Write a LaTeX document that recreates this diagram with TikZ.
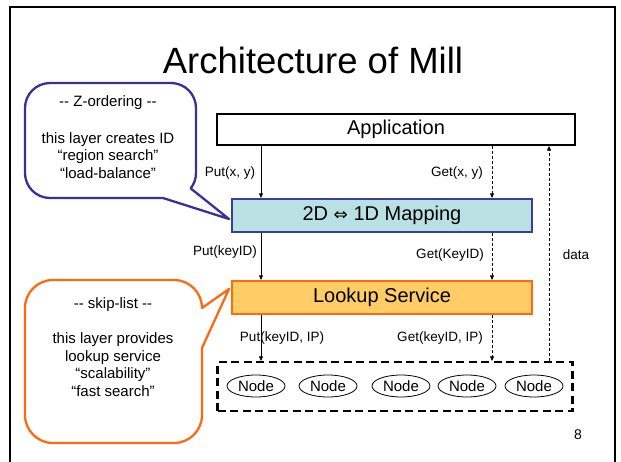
\documentclass[tikz,border=0pt]{standalone}
\usepackage{fontspec}
\setmainfont{Liberation Sans}
\newfontfamily\symfont{DejaVu Sans}
\usetikzlibrary{arrows.meta,shapes.geometric}
\definecolor{mapfill}{HTML}{B9E1E4}
\definecolor{mapline}{HTML}{3C3C9C}
\definecolor{lkfill}{HTML}{FFCC66}
\definecolor{lkline}{HTML}{FF6A10}
\definecolor{calloutblue}{HTML}{33339A}
\newcommand{\dd}{-\kern0pt-}
\begin{document}
\begin{tikzpicture}[x=1pt,y=-1pt,
  layer/.style={draw,line width=2.2pt,minimum width=300pt,minimum height=33pt,
    inner sep=0pt,font=\fontsize{20}{24}\selectfont},
  peer/.style={draw,ellipse,line width=0.8pt,minimum width=58pt,minimum height=22pt,
    inner sep=0pt,font=\fontsize{15}{18}\selectfont},
  lbl/.style={font=\fontsize{13.5}{16}\selectfont,inner sep=0pt},
  note/.style={align=center,font=\fontsize{15}{17.5}\selectfont,inner sep=0pt},
  call/.style={line width=0.7pt,-{Triangle[length=4.5pt,width=4pt]}},
  ret/.style={call,dash pattern=on 3pt off 2pt}]
\useasboundingbox (0,0) rectangle (621,461);
% slide frame
\draw[line width=2.5pt] (10,470) -- (10,7) -- (615,7) -- (615,470);
\node[font=\fontsize{36.5}{44}\selectfont,anchor=base,inner sep=0pt] (title) at (313,73) {Architecture of Mill};
\node[font=\fontsize{14}{16}\selectfont] (page) at (578,435) {8};

% layers
\node[layer,minimum width=358pt,minimum height=31pt,line width=2pt] (app) at (396,129.5) {Application};
\node[layer,fill=mapfill,draw=mapline] (map) at (382,215.5) {2D {\symfont\fontsize{17}{20}\selectfont ⇔} 1D Mapping};
\node[layer,fill=lkfill,draw=lkline] (lookup) at (382,297.5) {Lookup Service};
\node[draw,line width=2.2pt,dash pattern=on 8pt off 4.5pt,minimum width=355pt,
  minimum height=49pt,inner sep=0pt] (store) at (395,386.5) {};
\foreach \i/\x in {1/256,2/328,3/401,4/467,5/534}
  \node[peer] (n\i) at (\x,386) {Node};

% call columns
\coordinate (cput) at (261,0);
\coordinate (cget) at (492,0);
\coordinate (cdat) at (549,0);
\draw[call] (app.south -| cput) -- (map.north -| cput);
\draw[ret] (app.south -| cget) -- (map.north -| cget);
\draw[call] (map.south -| cput) -- (lookup.north -| cput);
\draw[ret] (map.south -| cget) -- (lookup.north -| cget);
\draw[call] (lookup.south -| cput) -- (store.north -| cput);
\draw[ret] (lookup.south -| cget) -- (store.north -| cget);
\draw[ret] (store.north -| cdat) -- (app.south -| cdat);

\node[lbl] (l1) at (230,173) {Put(x, y)};
\node[lbl] (l2) at (457,173) {Get(x, y)};
\node[lbl] (l3) at (225,252) {Put(keyID)};
\node[lbl] (l4) at (450,255) {Get(KeyID)};
\node[lbl] (l5) at (282,338) {Put(keyID, IP)};
\node[lbl] (l6) at (440,338) {Get(keyID, IP)};
\node[lbl] (l7) at (576,255) {data};

% callouts
\draw[calloutblue,line width=2.3pt,line join=round]
  (25,108) arc[start angle=180,end angle=270,radius=25] -- (171,83)
  arc[start angle=270,end angle=360,radius=25] -- (196,173)
  arc[start angle=0,end angle=38,radius=25] -- (229,219) -- (163,198) -- (50,198)
  arc[start angle=90,end angle=180,radius=25] -- cycle;
\node[note] (zord) at (108,137) {\dd{} Z-ordering \dd\\[19.5pt]this layer creates ID\\“region search”\\“load-balance”};

\draw[lkline,line width=2.3pt,line join=round]
  (25,308) arc[start angle=180,end angle=270,radius=28] -- (174,280)
  arc[start angle=270,end angle=360,radius=28] -- (229,289) -- (202,348) -- (202,415)
  arc[start angle=0,end angle=90,radius=28] -- (53,443)
  arc[start angle=90,end angle=180,radius=28] -- cycle;
\node[note] (skip) at (113,347) {\dd{} skip-list \dd\\[17.5pt]this layer provides\\lookup service\\“scalability”\\“fast search”};
\end{tikzpicture}
\end{document}
